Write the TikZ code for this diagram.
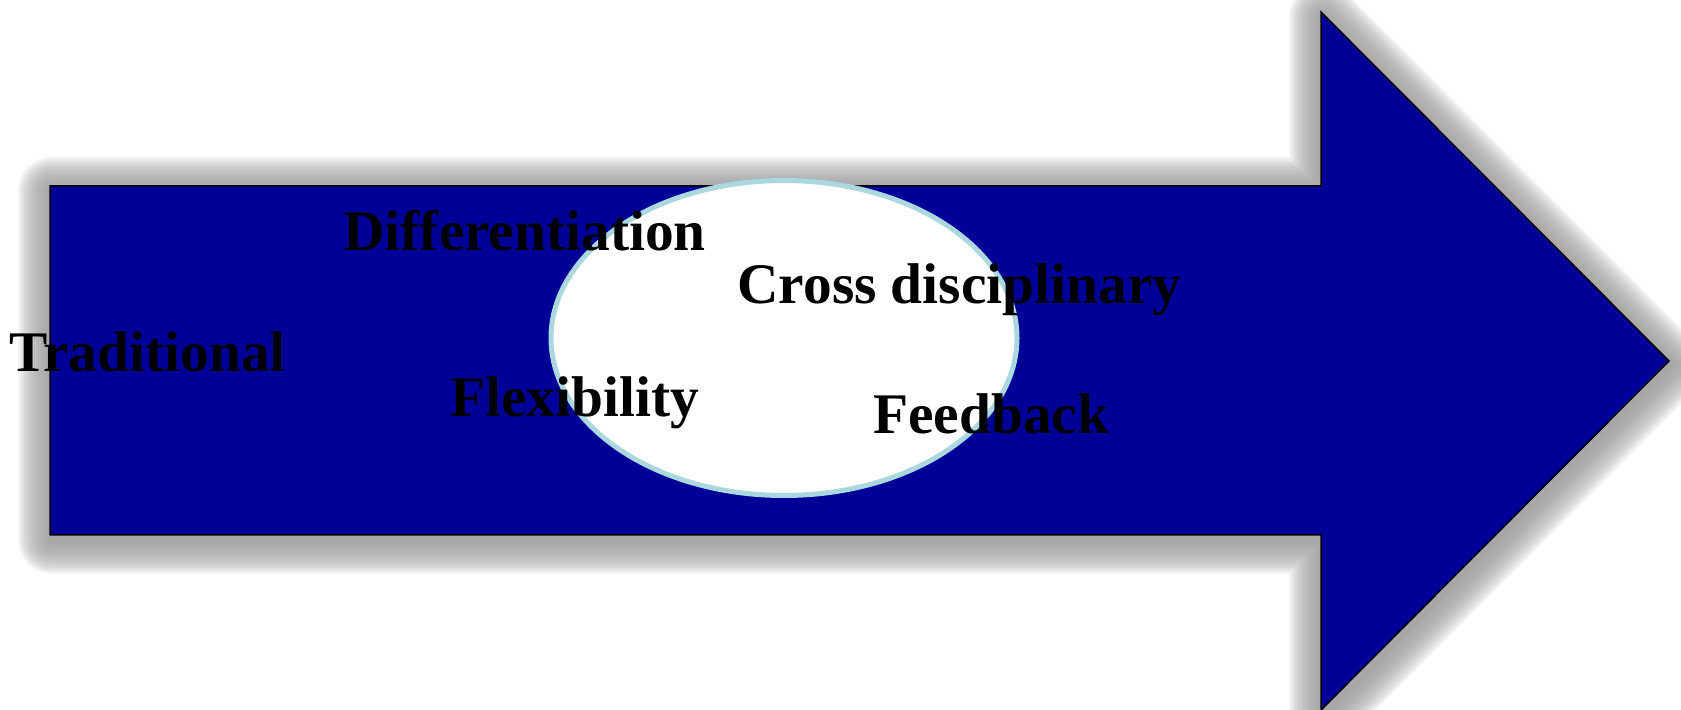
\documentclass[tikz,border=0pt]{standalone}
\usepackage{fontspec}
\setmainfont{Liberation Serif}
\usetikzlibrary{shapes.geometric}
\definecolor{arrowblue}{RGB}{0,0,153}
\definecolor{rimblue}{RGB}{170,216,222}
\tikzset{
  word/.style={anchor=base west, inner sep=0pt, font=\fontsize{28.7}{30}\selectfont\bfseries},
  hub/.style={ellipse, draw=rimblue, fill=white, line width=2.5pt, minimum width=233pt, minimum height=157.5pt}
}
\begin{document}
\begin{tikzpicture}[x=0.5pt,y=-0.5pt]
   \useasboundingbox (0,0) rectangle (1681,710);
   % soft shadow round the arrow
   \foreach \w in {34,32,...,2}
      \draw[shift={(2,5)}, line width=\w pt, black!40, opacity=0.11, line join=round]
         (50,186) -- (1321,186) -- (1321,12) -- (1669,361) -- (1321,710) -- (1321,535) -- (50,535) -- cycle;
   \draw[fill=arrowblue, line width=0.75pt]
      (50,186) -- (1321,186) -- (1321,12) -- (1669,361) -- (1321,710) -- (1321,535) -- (50,535) -- cycle;
   \node[hub] (core) at (784,338) {};
   \node[word] (diff) at (343,251) {Differentiation};
   \node[word] (trad) at (9,372) {Traditional};
   \node[word] (flex) at (450,417) {Flexibility};
   \node[word] (cross) at (737,304) {Cross disciplinary};
   \node[word] (feed) at (873,434) {Feedback};
\end{tikzpicture}
\end{document}
